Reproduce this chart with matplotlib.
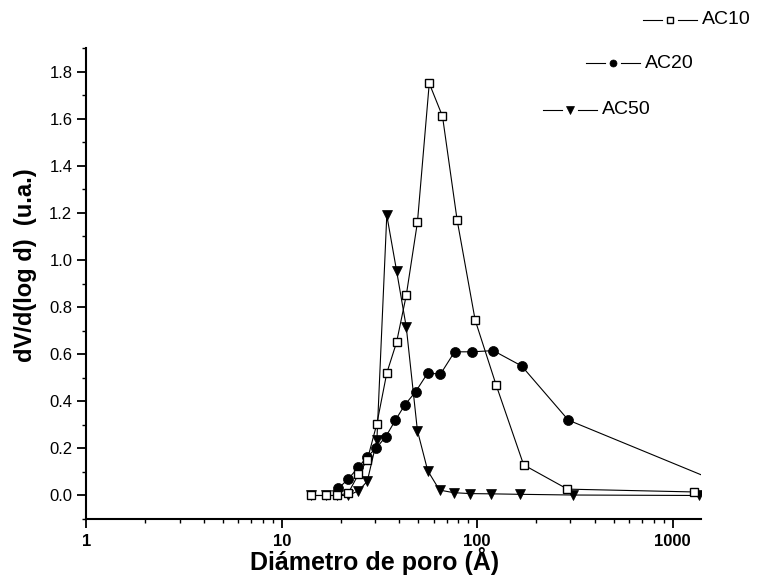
import matplotlib
matplotlib.use('Agg')
import matplotlib.pyplot as plt
from matplotlib.lines import Line2D
from matplotlib.ticker import MultipleLocator, FixedLocator, LogLocator, NullFormatter

plt.rcParams['font.family'] = ['Liberation Sans', 'DejaVu Sans']

# Pore diameter (Å) and dV/d(log d)
d_ac10 = [14.1, 16.8, 19.3, 21.9, 24.7, 27.4, 30.7, 34.5, 38.7, 43.4, 49.5,
          56.9, 66.5, 79, 97.7, 125, 173, 290, 1290]
v_ac10 = [0.0, 0.0, 0.0, 0.01, 0.09, 0.15, 0.305, 0.52, 0.65, 0.85, 1.16,
          1.75, 1.61, 1.17, 0.745, 0.47, 0.13, 0.027, 0.015]

d_ac20 = [19.5, 21.9, 24.7, 27.4, 30.4, 34.1, 38.2, 42.7, 48.4, 55.9, 64.9,
          76.7, 93.9, 121, 169, 293, 2000]
v_ac20 = [0.03, 0.07, 0.12, 0.165, 0.2, 0.25, 0.32, 0.385, 0.44, 0.52, 0.515,
          0.61, 0.61, 0.615, 0.55, 0.32, 0.035]

d_ac50 = [14.1, 16.8, 19.3, 21.9, 24.7, 27.4, 30.7, 34.5, 38.7, 43.4, 49.5,
          55.9, 64.2, 75.9, 92.3, 118, 166, 309, 1365]
v_ac50 = [0.0, 0.0, 0.0, 0.0, 0.02, 0.06, 0.235, 1.19, 0.955, 0.715, 0.275,
          0.105, 0.023, 0.012, 0.008, 0.007, 0.005, 0.002, 0.0]

yticks = [0.0, 0.2, 0.4, 0.6, 0.8, 1.0, 1.2, 1.4, 1.6, 1.8]

W, H = 760, 578
fig = plt.figure(figsize=(W / 100, H / 100), dpi=100)
ax = fig.add_axes([0.1135, 0.102, 0.809, 0.815])

styles = {
    'AC10': dict(marker='s', ms=6.3, mfc='white', mec='black', mew=1.0),
    'AC20': dict(marker='o', ms=7.2, mfc='black', mec='black', mew=0.5),
    'AC50': dict(marker='v', ms=7.8, mfc='black', mec='black', mew=0.5),
}

ax.plot(d_ac10, v_ac10, '-', color='black', lw=0.8, zorder=3, **styles['AC10'])
ax.plot(d_ac20, v_ac20, '-', color='black', lw=0.8, zorder=2, **styles['AC20'])
ax.plot(d_ac50, v_ac50, '-', color='black', lw=0.8, zorder=2, **styles['AC50'])

ax.set_xscale('log')
ax.set_xlim(1, 1400)
ax.set_ylim(-0.1, 1.9)

ax.spines['top'].set_visible(False)
ax.spines['right'].set_visible(False)
ax.spines['left'].set_linewidth(1.5)
ax.spines['bottom'].set_linewidth(1.5)

ax.set_xticks([1, 10, 100, 1000])
ax.set_xticklabels(['1', '10', '100', '1000'])
ax.xaxis.set_minor_locator(LogLocator(base=10, subs=range(2, 10)))
ax.xaxis.set_minor_formatter(NullFormatter())
ax.yaxis.set_major_locator(FixedLocator(yticks))
ax.yaxis.set_minor_locator(MultipleLocator(0.1))
ax.set_yticklabels(['%.1f' % t for t in yticks])

ax.tick_params(which='major', direction='out', length=6.5, width=1.3, labelsize=12, pad=3.5)
ax.tick_params(which='minor', direction='out', length=3, width=1.0)
ax.tick_params(axis='x', which='major', labelsize=12, pad=4)
for lab in ax.get_xticklabels():
    lab.set_fontweight('bold')

ax.set_xlabel('Diámetro de poro (Å)', fontsize=18, fontweight='bold', labelpad=0)
ax.xaxis.set_label_coords(0.469, -0.06, transform=ax.transAxes)
ax.xaxis.label.set_va('top')
ax.set_ylabel('dV/d(log d)  (u.a.)', fontsize=17, fontweight='bold', labelpad=9)
ax.yaxis.label.set_y(0.538)

# staggered legend entries at the top right (pixel positions of the handles)
legend_pos = {'AC10': (643, 20), 'AC20': (586, 63), 'AC50': (543, 110)}
for name, (px, py) in legend_pos.items():
    y = 1 - py / H
    seg = 19
    gap = 8
    fig.add_artist(Line2D([px / W, (px + seg) / W], [y, y], color='black', lw=0.8,
                          transform=fig.transFigure))
    fig.add_artist(Line2D([(px + seg + 2 * gap) / W, (px + 2 * seg + 2 * gap) / W], [y, y],
                          color='black', lw=0.8, transform=fig.transFigure))
    st = dict(styles[name])
    st['ms'] = st['ms'] * 0.7
    fig.add_artist(Line2D([(px + seg + gap) / W], [y], linestyle='none',
                          transform=fig.transFigure, **st))
    fig.text((px + 2 * seg + 2 * gap + 5) / W, y, name, fontsize=14,
             va='center', ha='left')

fig.savefig('out.png', dpi=100)
